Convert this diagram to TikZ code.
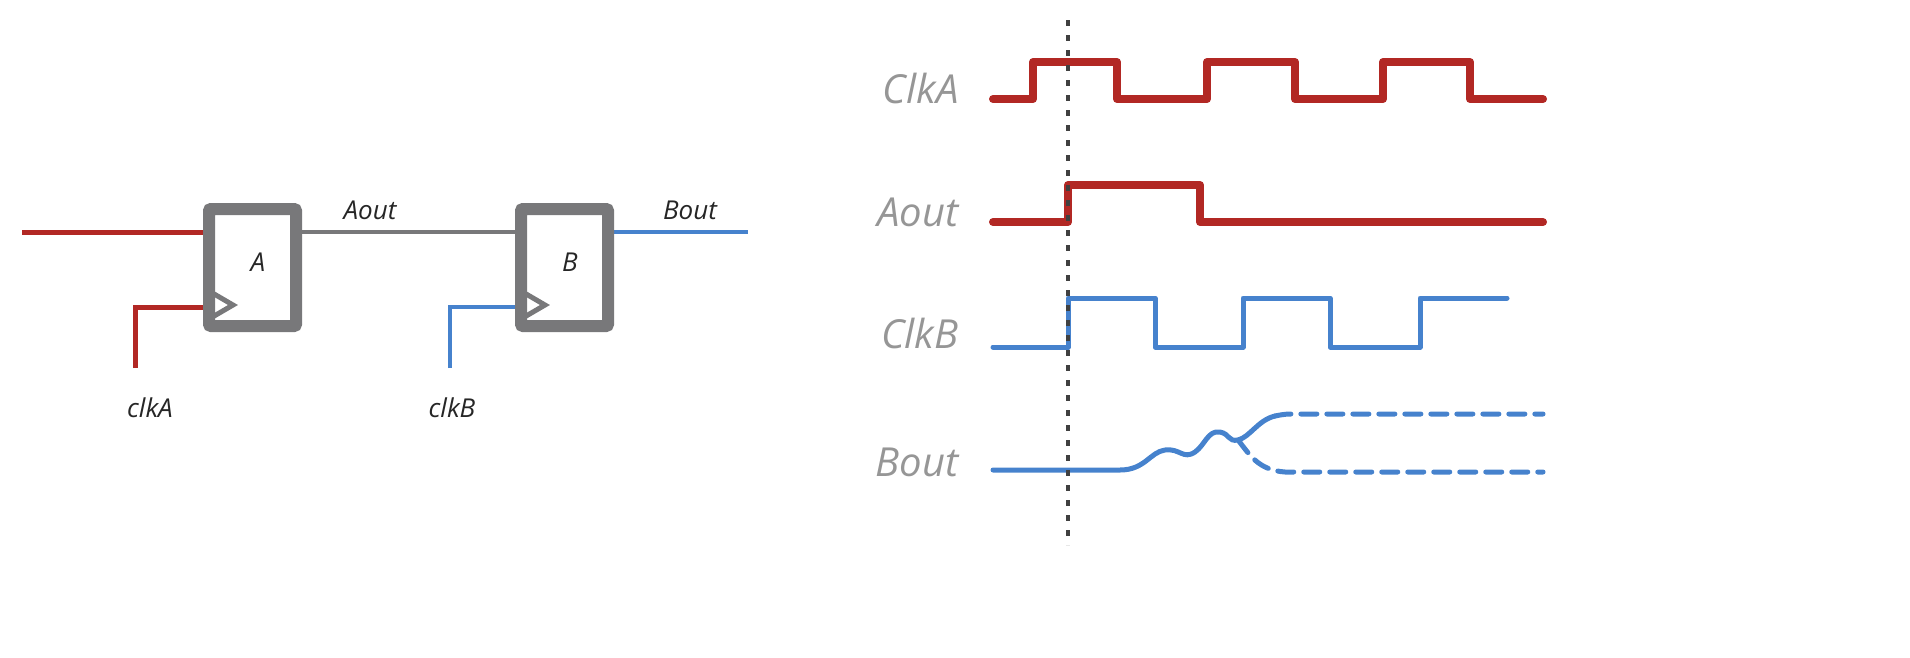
\documentclass[tikz,border=0pt]{standalone}
\usepackage{fontspec}
\setmainfont{Open Sans}
\definecolor{sigred}{RGB}{178,40,36}
\definecolor{sigblue}{RGB}{70,130,205}
\definecolor{boxgray}{RGB}{120,120,122}
\definecolor{labgray}{RGB}{150,150,150}
\tikzset{
  ff/.style={draw=boxgray, line width=12pt, rounded corners=2pt},
  redw/.style={draw=sigred, line width=5pt},
  bluew/.style={draw=sigblue, line width=4pt},
  redsig/.style={draw=sigred, line width=8pt, line join=round, line cap=round},
  bluesig/.style={draw=sigblue, line width=5pt, line join=round, line cap=round},
  siglab/.style={font=\fontsize{40}{40}\selectfont\itshape, text=labgray, anchor=east},
  wlab/.style={font=\fontsize{26}{26}\selectfont\itshape, text=black!85},
}
\begin{document}
\begin{tikzpicture}[x=1pt, y=-1pt]
    \useasboundingbox (0,0) rectangle (1910,657);
    % Circuit
    \draw[redw] (22,232) coordinate (inA) -- (203,232);
    \draw[redw] (135,368) coordinate (ckA) |- (203,307);
    \draw[draw=boxgray, line width=4pt] (302,232) -- (515,232);
    \draw[bluew] (613,232) -- (748,232) coordinate (outB);
    \draw[bluew] (450,368) coordinate (ckB) |- (515,307);
    \foreach \nm / \x in {A/209, B/521} {
        \draw[ff] (\x,209) rectangle (\x+87,326);
        \draw[draw=boxgray, line width=5pt] (\x,291) -- (\x+24,305) -- (\x,319);
        \node[wlab] (lab\nm) at (\x+49,262) {\nm};
    }
    \node[wlab] (laout) at (370,210) {Aout};
    \node[wlab] (lbout) at (690,210) {Bout};
    \node[wlab] (lcka) at (150,408) {clkA};
    \node[wlab] (lckb) at (452,408) {clkB};

    % Waveforms
    \node[siglab] (sClkA) at (962,88) {ClkA};
    \node[siglab] (sAout) at (962,212) {Aout};
    \node[siglab] (sClkB) at (962,333) {ClkB};
    \node[siglab] (sBout) at (962,462) {Bout};

    \draw[redsig] (993,99) -| (1033,62) -| (1117,99) -| (1207,62) -| (1295,99)
        -| (1383,62) -| (1470,99) -- (1543,99);
    \draw[redsig] (993,222) -| (1068,185) -| (1200,222) -- (1543,222);
    \draw[bluesig] (993,347) -| (1068,298) -| (1155,347) -| (1243,298) -| (1330,347)
        -| (1420,298) -- (1507,298);
    \draw[bluesig] (993,470) -- (1120,470)
        .. controls (1145,470) and (1150,452) .. (1165,450)
        .. controls (1180,448) and (1183,460) .. (1195,452)
        .. controls (1205,445) and (1208,430) .. (1220,432)
        .. controls (1230,434) and (1228,442) .. (1238,440)
        coordinate (split)
        .. controls (1250,437) and (1258,420) .. (1275,416);
    \draw[bluesig, dash pattern=on 16pt off 10pt] (1275,416)
        .. controls (1285,414) .. (1300,414) -- (1543,414);
    \draw[bluesig, dash pattern=on 16pt off 10pt] (split)
        .. controls (1250,455) and (1258,470) .. (1285,472) -- (1543,472);

    \draw[draw=black!75, line width=4pt, dash pattern=on 6pt off 9pt] (1068,20) -- (1068,545);
\end{tikzpicture}
\end{document}
